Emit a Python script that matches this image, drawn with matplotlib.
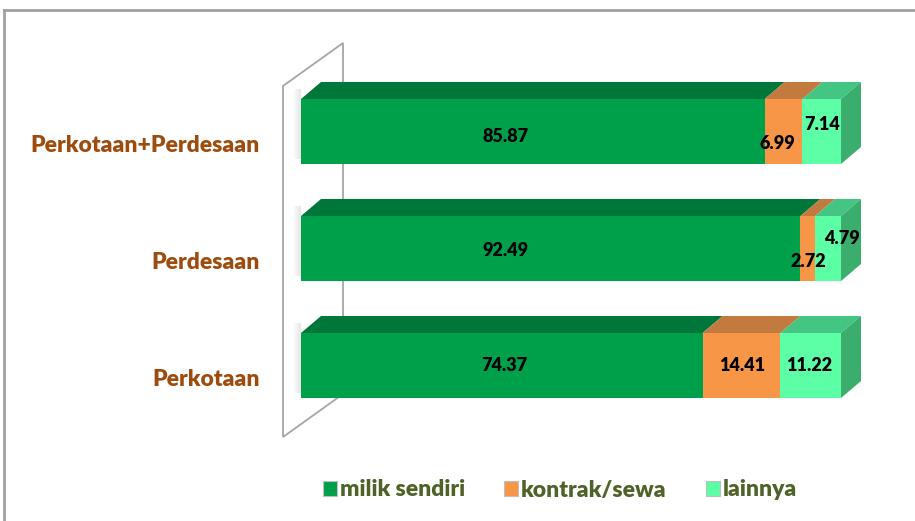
import matplotlib
matplotlib.use("Agg")
import matplotlib.pyplot as plt
from matplotlib.patches import Polygon, Patch
from matplotlib.lines import Line2D
import numpy as np

# ---- data ----
categories = ["Perkotaan", "Perdesaan", "Perkotaan+Perdesaan"]
series_names = ["milik sendiri", "kontrak/sewa", "lainnya"]
milik_sendiri = [74.37, 92.49, 85.87]
kontrak_sewa = [14.41, 2.72, 6.99]
lainnya = [11.22, 4.79, 7.14]

# ---- style ----
front_colors = ["#00A04B", "#F79646", "#5CFFA6"]
top_colors = ["#00773A", "#C27A3E", "#45C583"]
side_color = "#3BAE6E"
cat_color = "#9E4C0E"
legend_text_color = "#4F6228"
FONT = "Lato"
WEIGHT = "heavy"

# label offsets in pixels (dx, dy; dy positive = down) per (category, series)
label_offsets = {
    (0, 0): (3, 0), (0, 1): (1, 0), (0, 2): (-2, 0),
    (1, 0): (-45, 2), (1, 1): (1, 13), (1, 2): (14, -10),
    (2, 0): (-27, 5), (2, 1): (-6, 12), (2, 2): (0, -7),
}

W, H = 915, 521
fig = plt.figure(figsize=(W / 100, H / 100), dpi=100)
fig.patch.set_facecolor("white")

ax_l, ax_r, ax_t, ax_b = 280, 880, 30, 450
ax = fig.add_axes([ax_l / W, 1 - ax_b / H, (ax_r - ax_l) / W, (ax_b - ax_t) / H])
x0px, pxu = 301, 5.4
y2px, y0px = 131.5, 365.5
ppy = (y0px - y2px) / 2
ax.set_xlim((ax_l - x0px) / pxu, (ax_r - x0px) / pxu)
ax.set_ylim(-(ax_b - y0px) / ppy, 2 + (y2px - ax_t) / ppy)
ax.axis("off")

def px2x(p):
    return (p - x0px) / pxu

def px2y(p):
    return -(p - y0px) / ppy

# back wall
wall = Polygon([(px2x(283), px2y(86)), (px2x(343), px2y(43)),
                (px2x(343), px2y(394)), (px2x(283), px2y(437))],
               closed=True, facecolor="white", edgecolor="#A6A6A6", lw=1.3, zorder=1)
ax.add_patch(wall)

bar_h = 65 / ppy
dx = 20 / pxu
dy = 17 / ppy

y = np.arange(len(categories))
series = [milik_sendiri, kontrak_sewa, lainnya]

# soft shadow at the left end of bars
for ci in range(len(categories)):
    for k in range(8):
        ax.add_patch(Polygon([(px2x(300 - k), y[ci] - bar_h / 2 + 0.04), (px2x(301), y[ci] - bar_h / 2 + 0.04),
                              (px2x(301), y[ci] + bar_h / 2 + dy * 0.6), (px2x(300 - k), y[ci] + bar_h / 2 + dy * 0.6)],
                             closed=True, facecolor="#000000", alpha=0.012, edgecolor="none", zorder=1.5))

lefts = np.zeros(len(categories))
for si, vals in enumerate(series):
    vals = np.array(vals)
    ax.barh(y, vals, left=lefts, height=bar_h, color=front_colors[si],
            edgecolor="none", zorder=3)
    for ci in range(len(categories)):
        l, r = lefts[ci], lefts[ci] + vals[ci]
        top = y[ci] + bar_h / 2
        ax.add_patch(Polygon([(l, top), (r, top), (r + dx, top + dy), (l + dx, top + dy)],
                             closed=True, facecolor=top_colors[si], edgecolor="none", zorder=2))
        if si == len(series) - 1:
            bot = y[ci] - bar_h / 2
            ax.add_patch(Polygon([(r, bot), (r, top), (r + dx, top + dy), (r + dx, bot + dy)],
                                 closed=True, facecolor=side_color, edgecolor="none", zorder=2))
        ox, oy = label_offsets[(ci, si)]
        ax.annotate(f"{vals[ci]:.2f}", xy=((l + r) / 2, y[ci]),
                    xytext=(ox * 0.72, -oy * 0.72), textcoords="offset points",
                    ha="center", va="center", fontsize=13, fontweight=WEIGHT,
                    family=FONT, color="black", zorder=5)
    lefts = lefts + vals

# category labels
for ci, cat in enumerate(categories):
    ax.text(px2x(260), y[ci] - 14 / ppy, cat, ha="right", va="center",
            fontsize=16.5, fontweight=WEIGHT, family=FONT, color=cat_color, clip_on=False)

# legend
handles = [Patch(facecolor=c, edgecolor="#BFBFBF", lw=0.8) for c in front_colors]
leg = fig.legend(handles, series_names, loc="center", bbox_to_anchor=(560 / W, 1 - 490 / H),
                 ncol=3, frameon=False, handlelength=0.6, handleheight=0.6,
                 handletextpad=0.15, columnspacing=1.7,
                 prop={"family": FONT, "weight": WEIGHT, "size": 16.5})
for t in leg.get_texts():
    t.set_color(legend_text_color)

# figure border (top and left)
fig.add_artist(Line2D([4 / W, 4 / W], [0, 1 - 10 / H], transform=fig.transFigure,
                      color="#A0A0A0", lw=2))
fig.add_artist(Line2D([4 / W, 1], [1 - 10 / H, 1 - 10 / H], transform=fig.transFigure,
                      color="#A0A0A0", lw=2))

fig.savefig("out.png", dpi=100, facecolor="white")
